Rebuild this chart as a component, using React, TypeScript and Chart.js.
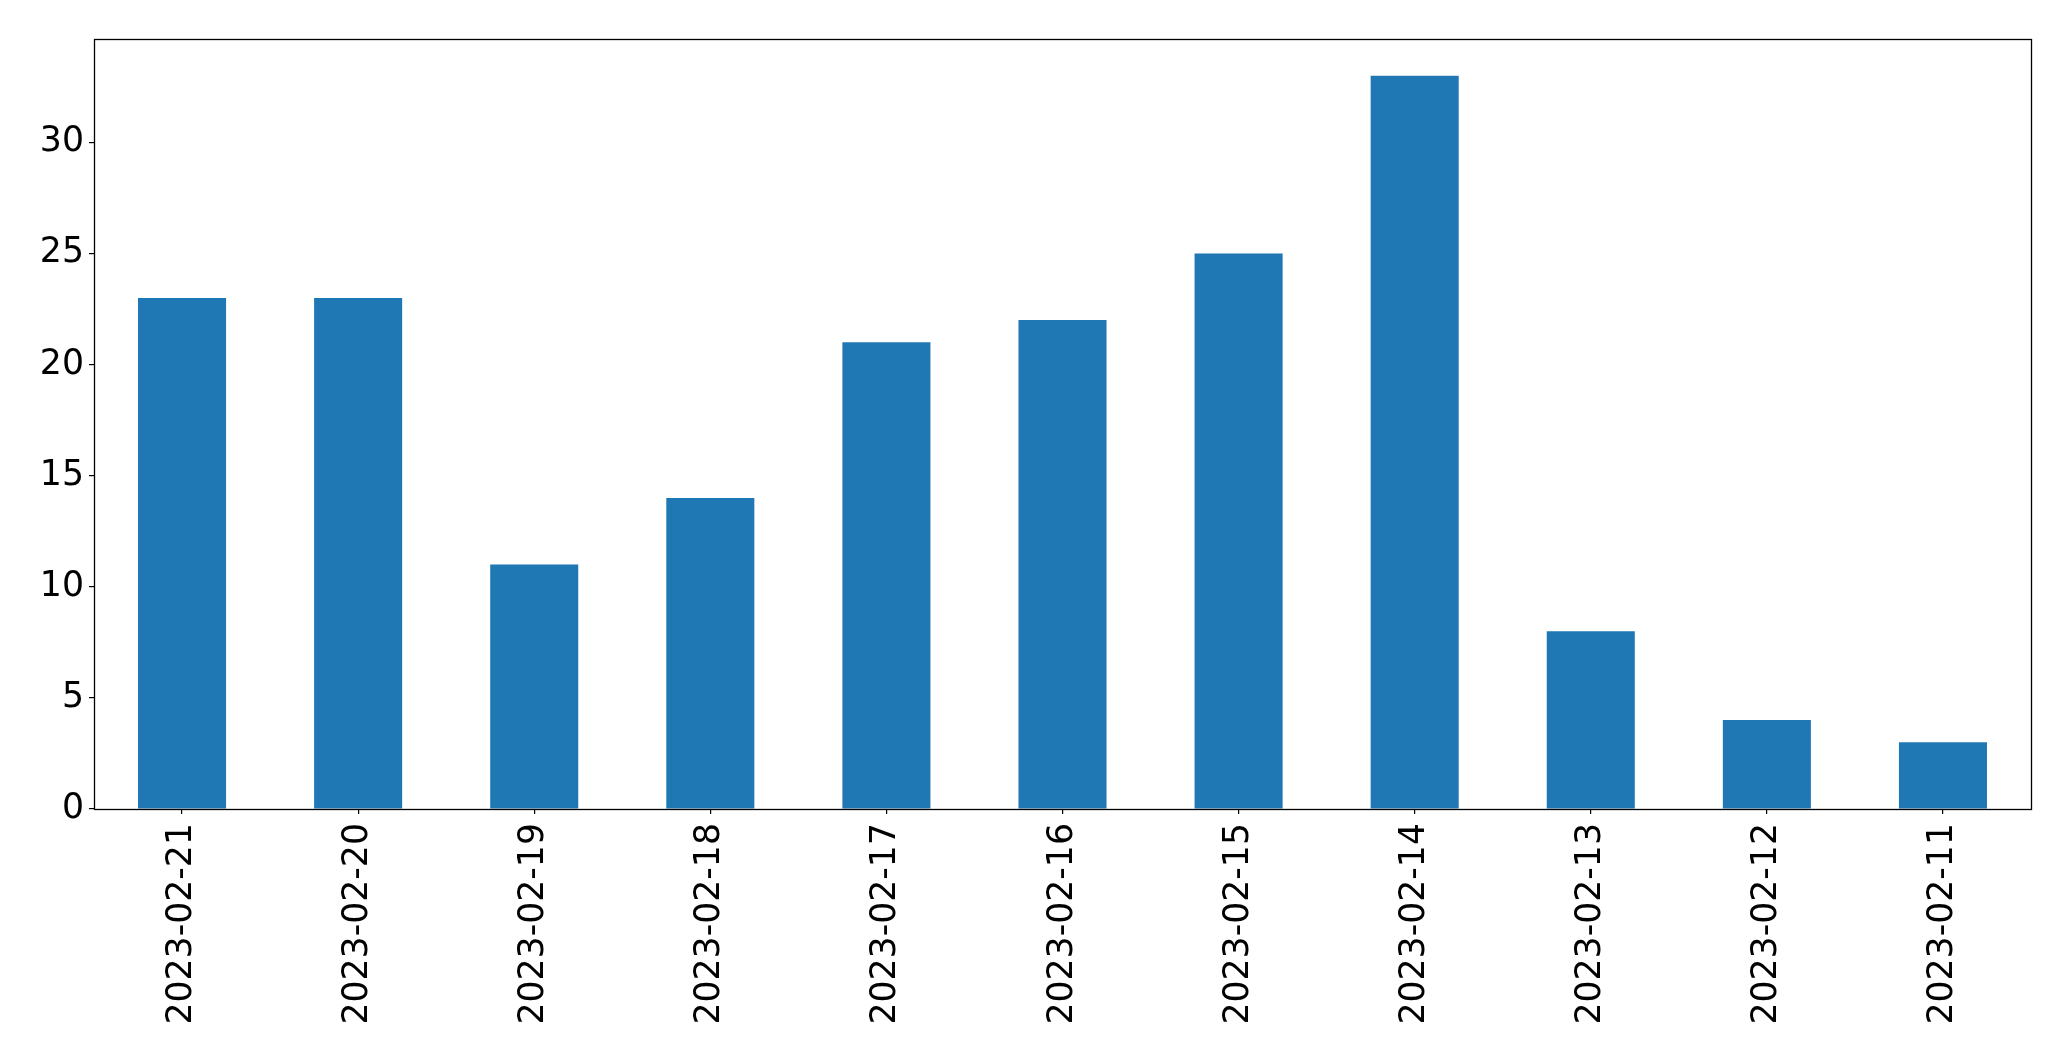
import React, { useEffect, useRef } from "react";
import { Chart, registerables } from "chart.js";

Chart.register(...registerables);

const CATEGORIES = [
  "2023-02-21",
  "2023-02-20",
  "2023-02-19",
  "2023-02-18",
  "2023-02-17",
  "2023-02-16",
  "2023-02-15",
  "2023-02-14",
  "2023-02-13",
  "2023-02-12",
  "2023-02-11",
];
const VALUES = [23, 23, 11, 14, 21, 22, 25, 33, 8, 4, 3];
const Y_TICKS = [0, 5, 10, 15, 20, 25, 30];
const Y_MAX = 34.65;

const W = 2071;
const H = 1061;

const framePlugin = {
  id: "frame",
  afterDraw(chart: any) {
    const { ctx, chartArea } = chart;
    const l = Math.round(chartArea.left) + 0.5;
    const t = Math.round(chartArea.top) + 0.5;
    const r = Math.round(chartArea.right) + 0.5;
    const b = Math.round(chartArea.bottom) + 0.5;
    ctx.save();
    ctx.strokeStyle = "#000";
    ctx.lineWidth = 1.3;
    ctx.strokeRect(l, t, r - l, b - t);
    ctx.restore();
  },
};

export default function App() {
  const ref = useRef<HTMLCanvasElement | null>(null);

  useEffect(() => {
    document.body.style.margin = "0";
    const font = { family: "'DejaVu Sans', sans-serif", size: 34.7 };
    const chart = new Chart(ref.current as HTMLCanvasElement, {
      type: "bar",
      data: {
        labels: CATEGORIES,
        datasets: [
          {
            data: VALUES,
            backgroundColor: "#1f77b4",
            borderWidth: 0,
            categoryPercentage: 1,
            barPercentage: 0.5,
          },
        ],
      },
      options: {
        responsive: false,
        animation: false,
        layout: { padding: { left: 0, top: 39, right: 40, bottom: 0 } },
        plugins: { legend: { display: false }, tooltip: { enabled: false } },
        scales: {
          x: {
            offset: true,
            grid: { display: true, offset: false, drawOnChartArea: false, drawTicks: true, tickLength: 5, color: "#000", lineWidth: 1.2 },
            border: { display: false },
            ticks: { color: "#000", font, autoSkip: false, minRotation: 90, maxRotation: 90, padding: 9 },
            afterFit: (scale: any) => {
              scale.height = 252;
            },
          },
          y: {
            min: 0,
            max: Y_MAX,
            grid: { display: true, drawOnChartArea: false, drawTicks: true, tickLength: 5, color: "#000", lineWidth: 1.2 },
            border: { display: false },
            ticks: { color: "#000", font, padding: 5 },
            afterBuildTicks: (scale: any) => {
              scale.ticks = Y_TICKS.map((v) => ({ value: v }));
            },
            afterFit: (scale: any) => {
              scale.width = 94;
            },
          },
        },
      },
      plugins: [framePlugin],
    });
    return () => chart.destroy();
  }, []);

  return (
    <div style={{ width: W, height: H }}>
      <canvas ref={ref} width={W} height={H} style={{ display: "block" }} />
    </div>
  );
}
